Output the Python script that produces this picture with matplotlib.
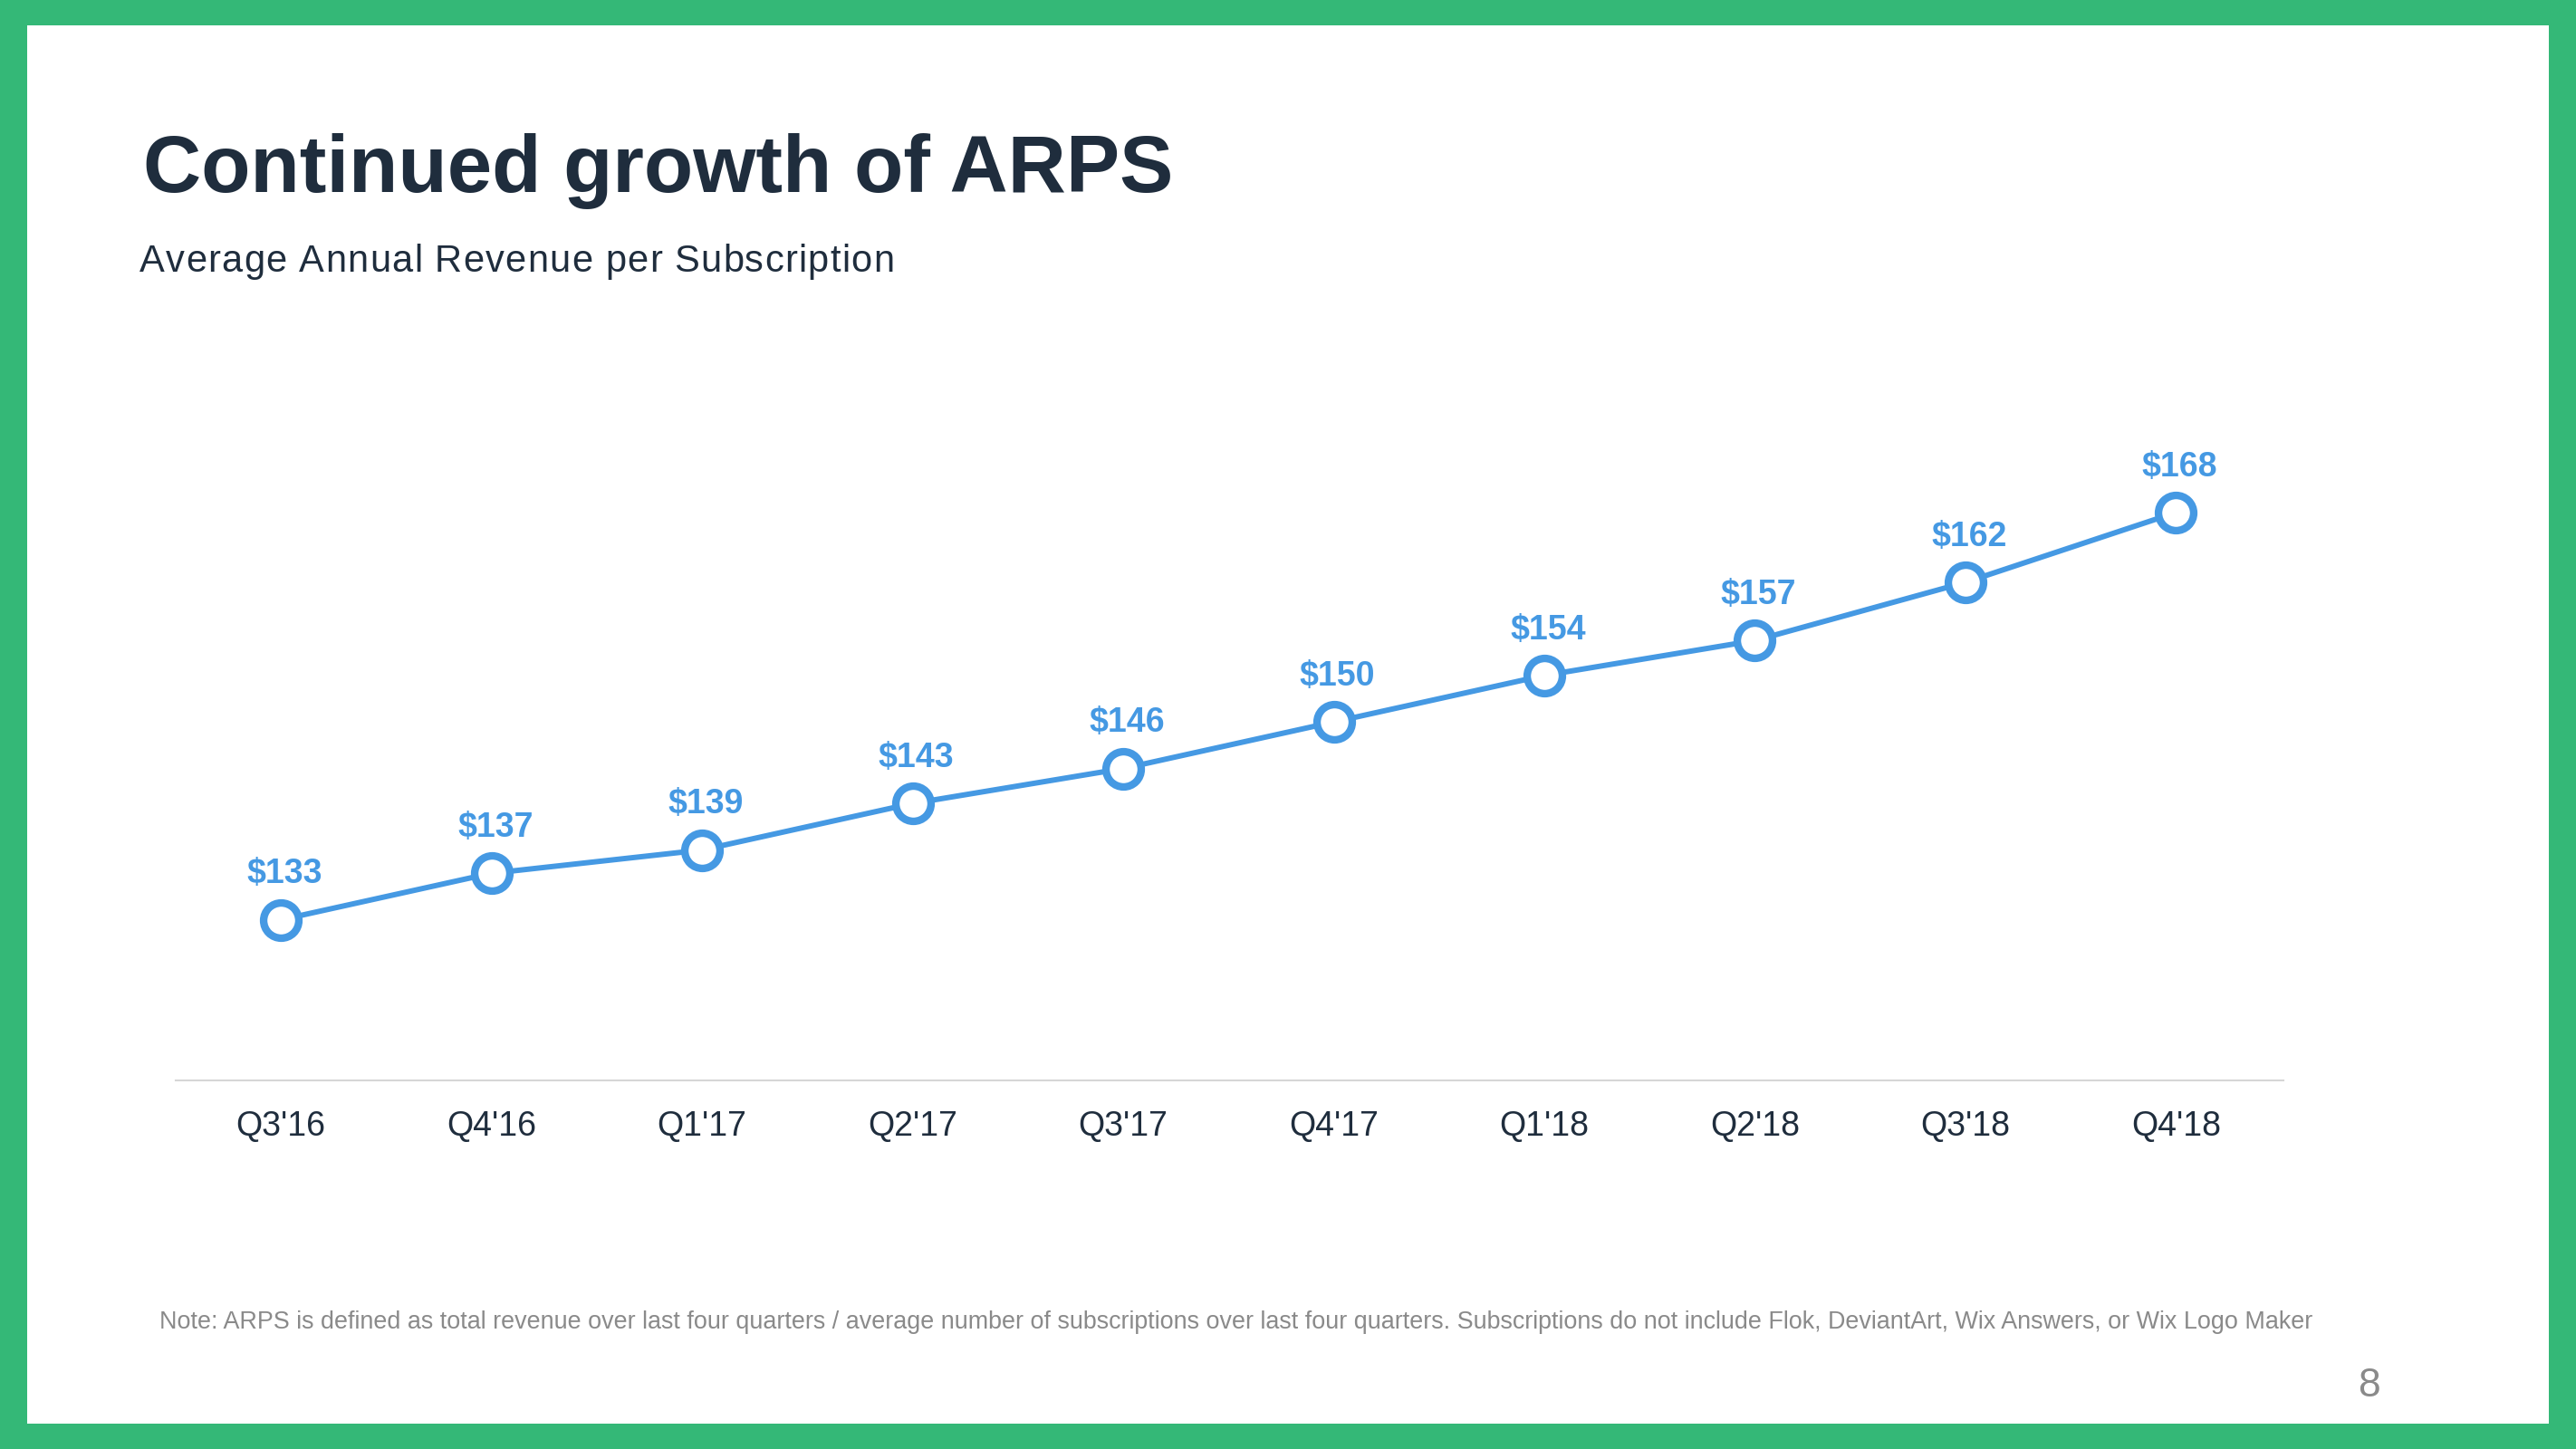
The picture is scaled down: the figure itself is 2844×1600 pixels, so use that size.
import matplotlib
matplotlib.use("Agg")
import matplotlib.pyplot as plt
from matplotlib.patches import Rectangle
from matplotlib.font_manager import FontProperties, findfont, get_font

quarters = ["Q3'16", "Q4'16", "Q1'17", "Q2'17", "Q3'17",
            "Q4'17", "Q1'18", "Q2'18", "Q3'18", "Q4'18"]
arps = [133, 137, 139, 143, 146, 150, 154, 157, 162, 168]

title = "Continued growth of ARPS"
subtitle = "Average Annual Revenue per Subscription"
note = ("Note: ARPS is defined as total revenue over last four quarters / average number of "
        "subscriptions over last four quarters. Subscriptions do not include Flok, DeviantArt, "
        "Wix Answers, or Wix Logo Maker")

green = '#34b877'
navy = '#1f2d3d'
blue = '#4599e3'
grey = '#8a8a8a'

plt.rcParams['font.family'] = ['Liberation Sans', 'DejaVu Sans']

W, H = 2844, 1600
fig = plt.figure(figsize=(W / 100, H / 100), dpi=100, facecolor=green)
fig.patches.append(Rectangle((0.01055, 0.0175), 0.9790, 0.9650, transform=fig.transFigure,
                             facecolor='white', edgecolor='none', zorder=-5))

fig.text(0.0555, 0.8675, title, fontsize=64, fontweight='bold',
         color=navy, va='baseline', ha='left')

# subtitle is letter-spaced: place characters one by one
sub_size = 30
ft = get_font(findfont(FontProperties(family='Liberation Sans')))
ft.set_size(sub_size, 100)
advances = [ft.load_char(ord(c)).linearHoriAdvance / 65536 for c in subtitle]
x0, target = 154, 833
track = (target - sum(advances)) / (len(subtitle) - 1)
xpos = x0
for c, a in zip(subtitle, advances):
    fig.text(xpos / W, 0.8125, c, fontsize=sub_size, color=navy, va='baseline', ha='left')
    xpos += a + track

ax = fig.add_axes([0.0682, 0.2544, 0.8182, 0.4481])
ax.set_facecolor('none')
x = list(range(len(quarters)))
ax.plot(x, arps, color=blue, lw=4.3, marker='o', markersize=28,
        markerfacecolor='white', markeredgecolor=blue, markeredgewidth=6, zorder=3)

for xi, v in zip(x, arps):
    ax.annotate(f"${v}", (xi, v), xytext=(3, 29), textcoords='offset points',
                ha='center', va='baseline', fontsize=27, fontweight='bold', color=blue)

ax.set_xlim(-0.5, 9.51)
ax.set_ylim(119.2, 175)
ax.set_xticks(x)
ax.set_xticklabels(quarters, fontsize=27, color=navy)
ax.tick_params(axis='x', length=0, pad=24)
ax.set_yticks([])
for s in ['top', 'right', 'left']:
    ax.spines[s].set_visible(False)
ax.spines['bottom'].set_color('#d6d6d6')
ax.spines['bottom'].set_linewidth(1.5)

fig.text(0.0619, 0.0831, note, fontsize=19.4, color=grey, va='baseline', ha='left')
fig.text(0.9195, 0.03625, "8", fontsize=32, color=grey, va='baseline', ha='center')

fig.savefig('out.png', dpi=100, facecolor=green)
